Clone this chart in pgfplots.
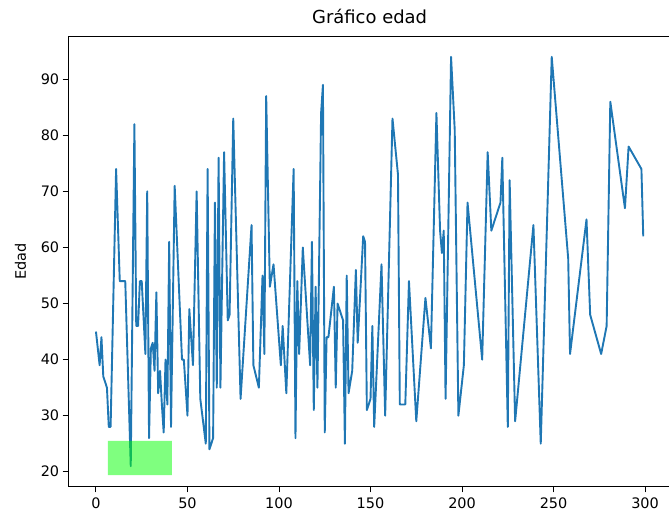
\documentclass[border=0pt]{standalone}
\usepackage{fontspec}
\setmainfont{DejaVu Sans}
\usepackage{pgfplots}
\usepackage{pgfplotstable}
\pgfplotsset{compat=1.18}
\definecolor{mplblue}{HTML}{1F77B4}
\definecolor{limegreen}{RGB}{0,255,0}
\pgfplotstableread{
x y
0 45
2 39
3 44
4 37
6 35
7 28
8 28
11 74
13 54
16 54
19 21
21 82
22 46
23 46
24 54
25 54
27 41
28 70
29 26
30 42
31 43
32 38
33 52
34 34
35 38
36 32
37 27
38 40
39 32
40 61
41 28
43 71
47 40
48 40
50 30
51 49
53 39
55 70
57 33
60 25
61 74
62 24
64 26
65 68
66 35
67 76
68 35
70 77
72 47
73 48
75 83
79 33
85 64
86 39
89 35
91 55
92 41
93 87
95 53
97 57
101 39
102 46
104 34
108 74
109 26
110 54
111 41
113 60
117 39
118 61
119 31
120 53
121 35
123 84
124 89
125 27
126 44
127 44
130 53
131 35
132 50
135 47
136 25
137 55
138 34
140 38
142 56
143 43
146 62
147 61
148 31
150 33
151 46
152 28
156 57
158 30
162 83
165 73
166 32
169 32
171 54
175 29
180 51
183 42
186 84
188 63
189 59
190 63
191 33
194 94
196 81
198 30
201 39
203 68
211 40
214 77
216 63
221 68
222 76
225 28
226 72
229 29
239 64
243 25
249 94
258 58
259 41
268 65
270 48
276 41
279 46
281 86
289 67
291 78
298 74
299 62
}\edad
\begin{document}
\begin{tikzpicture}[x=1bp,y=1bp]
\useasboundingbox (0,0) rectangle (669,517);
\begin{axis}[
  at={(68.6bp,30.4bp)}, anchor=south west,
  scale only axis, width=602bp, height=450.2bp,
  xmin=-14.95, xmax=313.95, ymin=17.35, ymax=97.65,
  xtick={0,50,...,300}, ytick={20,30,...,90},
  tick pos=left,
  tick align=outside, major tick length=5.9bp,
  tick style={black, line width=0.95bp},
  axis line style={line width=0.95bp},
  ticklabel style={font=\fontsize{14.5}{17}\selectfont},
  xticklabel style={yshift=-2bp},
  /pgf/number format/assume math mode=true,
  title={Gráfico edad},
  title style={font=\fontsize{18}{21}\selectfont, at={(0.5,1)}, anchor=base, yshift=7bp},
  ylabel={Edad},
  ylabel style={font=\fontsize{14.5}{17}\selectfont, yshift=8bp},
]
\addplot[mplblue, line width=1.9bp, line join=round, mark=none] table[x=x, y=y] {\edad};
\addplot[draw=none, fill=limegreen, fill opacity=0.5, mark=none] coordinates {(6.5,19.4) (41.5,19.4) (41.5,25.5) (6.5,25.5) (6.5,19.4)};
\end{axis}
\end{tikzpicture}
\end{document}
